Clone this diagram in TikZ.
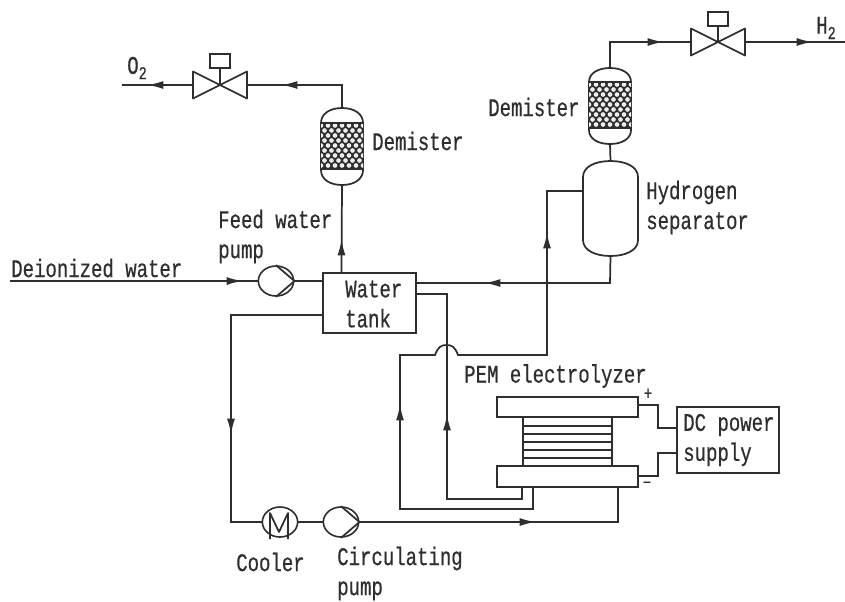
\documentclass[tikz,border=0pt]{standalone}
\usepackage{fontspec}
\setmainfont[FakeStretch=0.75,FakeBold=0.5]{Liberation Mono}
\usetikzlibrary{shapes.geometric,arrows.meta}
\newcommand{\lab}{\fontsize{19}{22.5}\selectfont}
\newcommand{\subtwo}{\raisebox{-.4ex}{\fontsize{13.5}{13.5}\selectfont 2}}
\definecolor{ink}{HTML}{2E2E2E}
\tikzset{
  pipe/.style={draw=ink,line width=1.3pt,line join=miter},
  flow/.style={pipe,shorten >=-0.5pt,-{Latex[length=12pt,width=6pt]}},
  boxn/.style={draw=ink,line width=1.2pt,rectangle,inner sep=0pt},
  rot/.style={draw=ink,line width=1.2pt,ellipse,inner sep=0pt,minimum width=26.5pt,minimum height=22.5pt},
  lbl/.style={font=\lab,text=ink,inner sep=0pt,anchor=west,align=left},
  sgn/.style={font=\fontsize{14}{14}\selectfont,text=ink,inner sep=0pt},
  ghost/.style={rectangle,inner sep=0pt},
}
% \vessel{name}{cx}{top}{bottom}{halfwidth}{cap}
\newcommand{\vessel}[6]{%
  \draw[pipe] (#2-#5,#3+#6) .. controls (#2-#5,#3+0.35*#6) and (#2-0.55*#5,#3) .. (#2,#3)
     .. controls (#2+0.55*#5,#3) and (#2+#5,#3+0.35*#6) .. (#2+#5,#3+#6)
     -- (#2+#5,#4-#6) .. controls (#2+#5,#4-0.35*#6) and (#2+0.55*#5,#4) .. (#2,#4)
     .. controls (#2-0.55*#5,#4) and (#2-#5,#4-0.35*#6) .. (#2-#5,#4-#6) -- cycle;
  \coordinate (#1-n) at (#2,#3);
  \coordinate (#1-s) at (#2,#4);
}
% \packing{cx}{top}{bottom}{halfwidth}
\newcommand{\packing}[4]{%
  \begin{scope}
    \clip (#1-#4,#2) rectangle (#1+#4,#3);
    \fill[ink] (#1-#4,#2) rectangle (#1+#4,#3);
    \foreach \i in {0,...,9}{
      \foreach \j in {-4,...,4}{
        \pgfmathsetmacro{\px}{#1+\j*7+mod(\i,2)*3.5}
        \pgfmathsetmacro{\py}{#2+2.5+\i*5}
        \fill[white!92!ink] (\px,\py) circle[radius=1.75pt];
      }
    }
  \end{scope}
  \draw[pipe] (#1-#4,#2) -- (#1+#4,#2) (#1-#4,#3) -- (#1+#4,#3);
}
% \valve{name}{cx}{cy}{topofbox}
\newcommand{\valve}[4]{%
  \coordinate (#1-c) at (#2,#3);
  \coordinate (#1-l) at (#2-27,#3);
  \coordinate (#1-r) at (#2+27,#3);
  \draw[pipe,line join=round] (#1-c) -- (#2-27,#3-13.5) -- (#2-27,#3+13.5) -- cycle;
  \draw[pipe,line join=round] (#1-c) -- (#2+27,#3-13.5) -- (#2+27,#3+13.5) -- cycle;
  \node[boxn,minimum width=15pt,minimum height=10.5pt] (#1-a) at (#2,#4+7) {};
  \draw[pipe] (#1-a) -- (#1-c);
}
\begin{document}
\begin{tikzpicture}[x=0.75pt,y=-0.75pt]
\useasboundingbox (0,0) rectangle (845,601);
\fill[white] (0,0) rectangle (845,601);

% equipment
\vessel{demA}{342}{108}{185}{21}{15}
\packing{342}{123}{169}{21}
\vessel{demB}{610}{68}{144}{21}{14}
\packing{610}{82}{128}{21}
\vessel{sep}{610.5}{161}{256}{27.5}{16}
\valve{valA}{220}{85}{54}
\valve{valB}{718}{42}{12}

\node[boxn,minimum width=69.75pt,minimum height=45pt] (tank) at (369.5,303) {};
\node[lbl] (tanktxt) at (345,304) {Water\\tank};
\node[rot] (feed) at (276,281) {};
\draw[pipe] (feed.north) -- (feed.east) -- (feed.south);
\node[rot] (cooler) at (280,522) {};
\draw[pipe,line join=round] (270,539) -- (270,513) -- (279,532) -- (288,513) -- (288,539);
\node[rot] (circ) at (341,522) {};
\draw[pipe] (circ.north) -- (circ.east) -- (circ.south);

\node[boxn,minimum width=105.75pt,minimum height=15pt] (topel) at (567.5,407) {};
\node[boxn,minimum width=105.75pt,minimum height=15.75pt] (botel) at (567.5,476.5) {};
\node[ghost,minimum width=66.75pt,minimum height=36.75pt] (stack) at (567.5,441.5) {};
\draw[pipe] (stack.north west) -- (stack.south west) (stack.north east) -- (stack.south east);
\foreach \yy in {426,434,442,450,458}{
  \draw[pipe] (stack.west |- 0,\yy) -- (stack.east |- 0,\yy);
}
\node[boxn,minimum width=76.5pt,minimum height=49.5pt] (dc) at (728,440) {};
\node[lbl] (dctxt) at (683,440) {DC power\\supply};

% named way points
\coordinate (o2end) at (122,85);
\coordinate (o2a) at (148,85);
\coordinate (oA) at (282,85);
\coordinate (oB) at (342,85);
\coordinate (rise) at (341.5,240);
\coordinate (h1) at (610,42);
\coordinate (h2) at (663,42);
\coordinate (h3) at (812,42);
\coordinate (h4) at (845,42);
\coordinate (diw) at (10,281);
\coordinate (diwa) at (242,281);
\coordinate (sepout) at (610,283);
\coordinate (sepa) at (485,283);
\coordinate (tankr) at (416,283);
\coordinate (o1) at (416,294);
\coordinate (o2) at (447,294);
\coordinate (o3) at (447,499);
\coordinate (o4) at (522,499);
\coordinate (o5) at (522,487);
\coordinate (o6) at (447,415);
\coordinate (t1) at (533,487);
\coordinate (t2) at (533,509);
\coordinate (t3) at (400,509);
\coordinate (t4) at (400,405);
\coordinate (t5) at (400,355);
\coordinate (t6) at (435,355);
\coordinate (t7) at (458,355);
\coordinate (t8) at (547,355);
\coordinate (t9) at (547,233);
\coordinate (t10) at (547,191);
\coordinate (t11) at (583,191);
\coordinate (l1) at (323,315);
\coordinate (l2) at (231,315);
\coordinate (l3) at (231,434);
\coordinate (l4) at (231,522);
\coordinate (r1) at (535,522);
\coordinate (r2) at (618,522);
\coordinate (p1) at (638,405);
\coordinate (p2) at (658,405);
\coordinate (p3) at (658,428);
\coordinate (p4) at (677,428);
\coordinate (m1) at (638,476);
\coordinate (m2) at (658,476);
\coordinate (m3) at (658,453);
\coordinate (m4) at (677,453);

% connectors: each line is drawn whole, the flow arrow lies on top of it
\draw[pipe] (demA-n) -- (oB) -- (valA-r);
\draw[flow] (oB) -- (oA);
\draw[pipe] (valA-l) -- (o2end);
\draw[flow] (valA-l) -- (o2a);
\draw[pipe] (tank.north -| rise) -- (demA-s);
\draw[flow] (tank.north -| rise) -- (rise);
\draw[pipe] (demB-n) -- (h1) -- (valB-l);
\draw[flow] (h1) -- (h2);
\draw[pipe] (valB-r) -- (h4);
\draw[flow] (valB-r) -- (h3);
\draw[pipe] (demB-s) -- (sep-n);
\draw[pipe] (diw) -- (feed.west);
\draw[flow] (diw) -- (diwa);
\draw[pipe] (feed.east) -- (feed.east -| tank.west);
\draw[pipe] (sep-s) -- (sepout) -- (tankr);
\draw[flow] (sepout) -- (sepa);
\draw[pipe] (o1) -- (o2) -- (o3) -- (o4) -- (o5);
\draw[flow] (o3) -- (o6);
\draw[pipe] (t1) -- (t2) -- (t3) -- (t5) -- (t6) .. controls (438,347) and (441,345) .. (446.5,345) .. controls (452,345) and (455,347) .. (t7) -- (t8) -- (t10) -- (t11);
\draw[flow] (t3) -- (t4);
\draw[flow] (t8) -- (t9);
\draw[pipe] (l1) -- (l2) -- (l4) -- (cooler.west);
\draw[flow] (l2) -- (l3);
\draw[pipe] (cooler.east) -- (circ.west);
\draw[pipe] (circ.east) -- (r2) -- (r2 |- botel.south);
\draw[flow] (circ.east) -- (r1);
\draw[pipe] (p1) -- (p2) -- (p3) -- (p4);
\draw[pipe] (m1) -- (m2) -- (m3) -- (m4);

% labels
\node[lbl] (lo2) at (127,68) {O\subtwo};
\node[lbl] (lh2) at (816,28) {H\subtwo};
\node[lbl] (ldA) at (372,141) {Demister};
\node[lbl] (ldB) at (488,107) {Demister};
\node[lbl] (lhs) at (646,207.5) {Hydrogen\\separator};
\node[lbl] (lfw) at (218,236.5) {Feed water\\pump};
\node[lbl] (ldi) at (11,268) {Deionized water};
\node[lbl] (lpem) at (464,376) {PEM electrolyzer};
\node[sgn] (lpl) at (648,394) {+};
\node[sgn] (lmi) at (647,485) {−};
\node[lbl] (lco) at (236,562) {Cooler};
\node[lbl] (lcp) at (337,573.5) {Circulating\\pump};
\end{tikzpicture}
\end{document}
